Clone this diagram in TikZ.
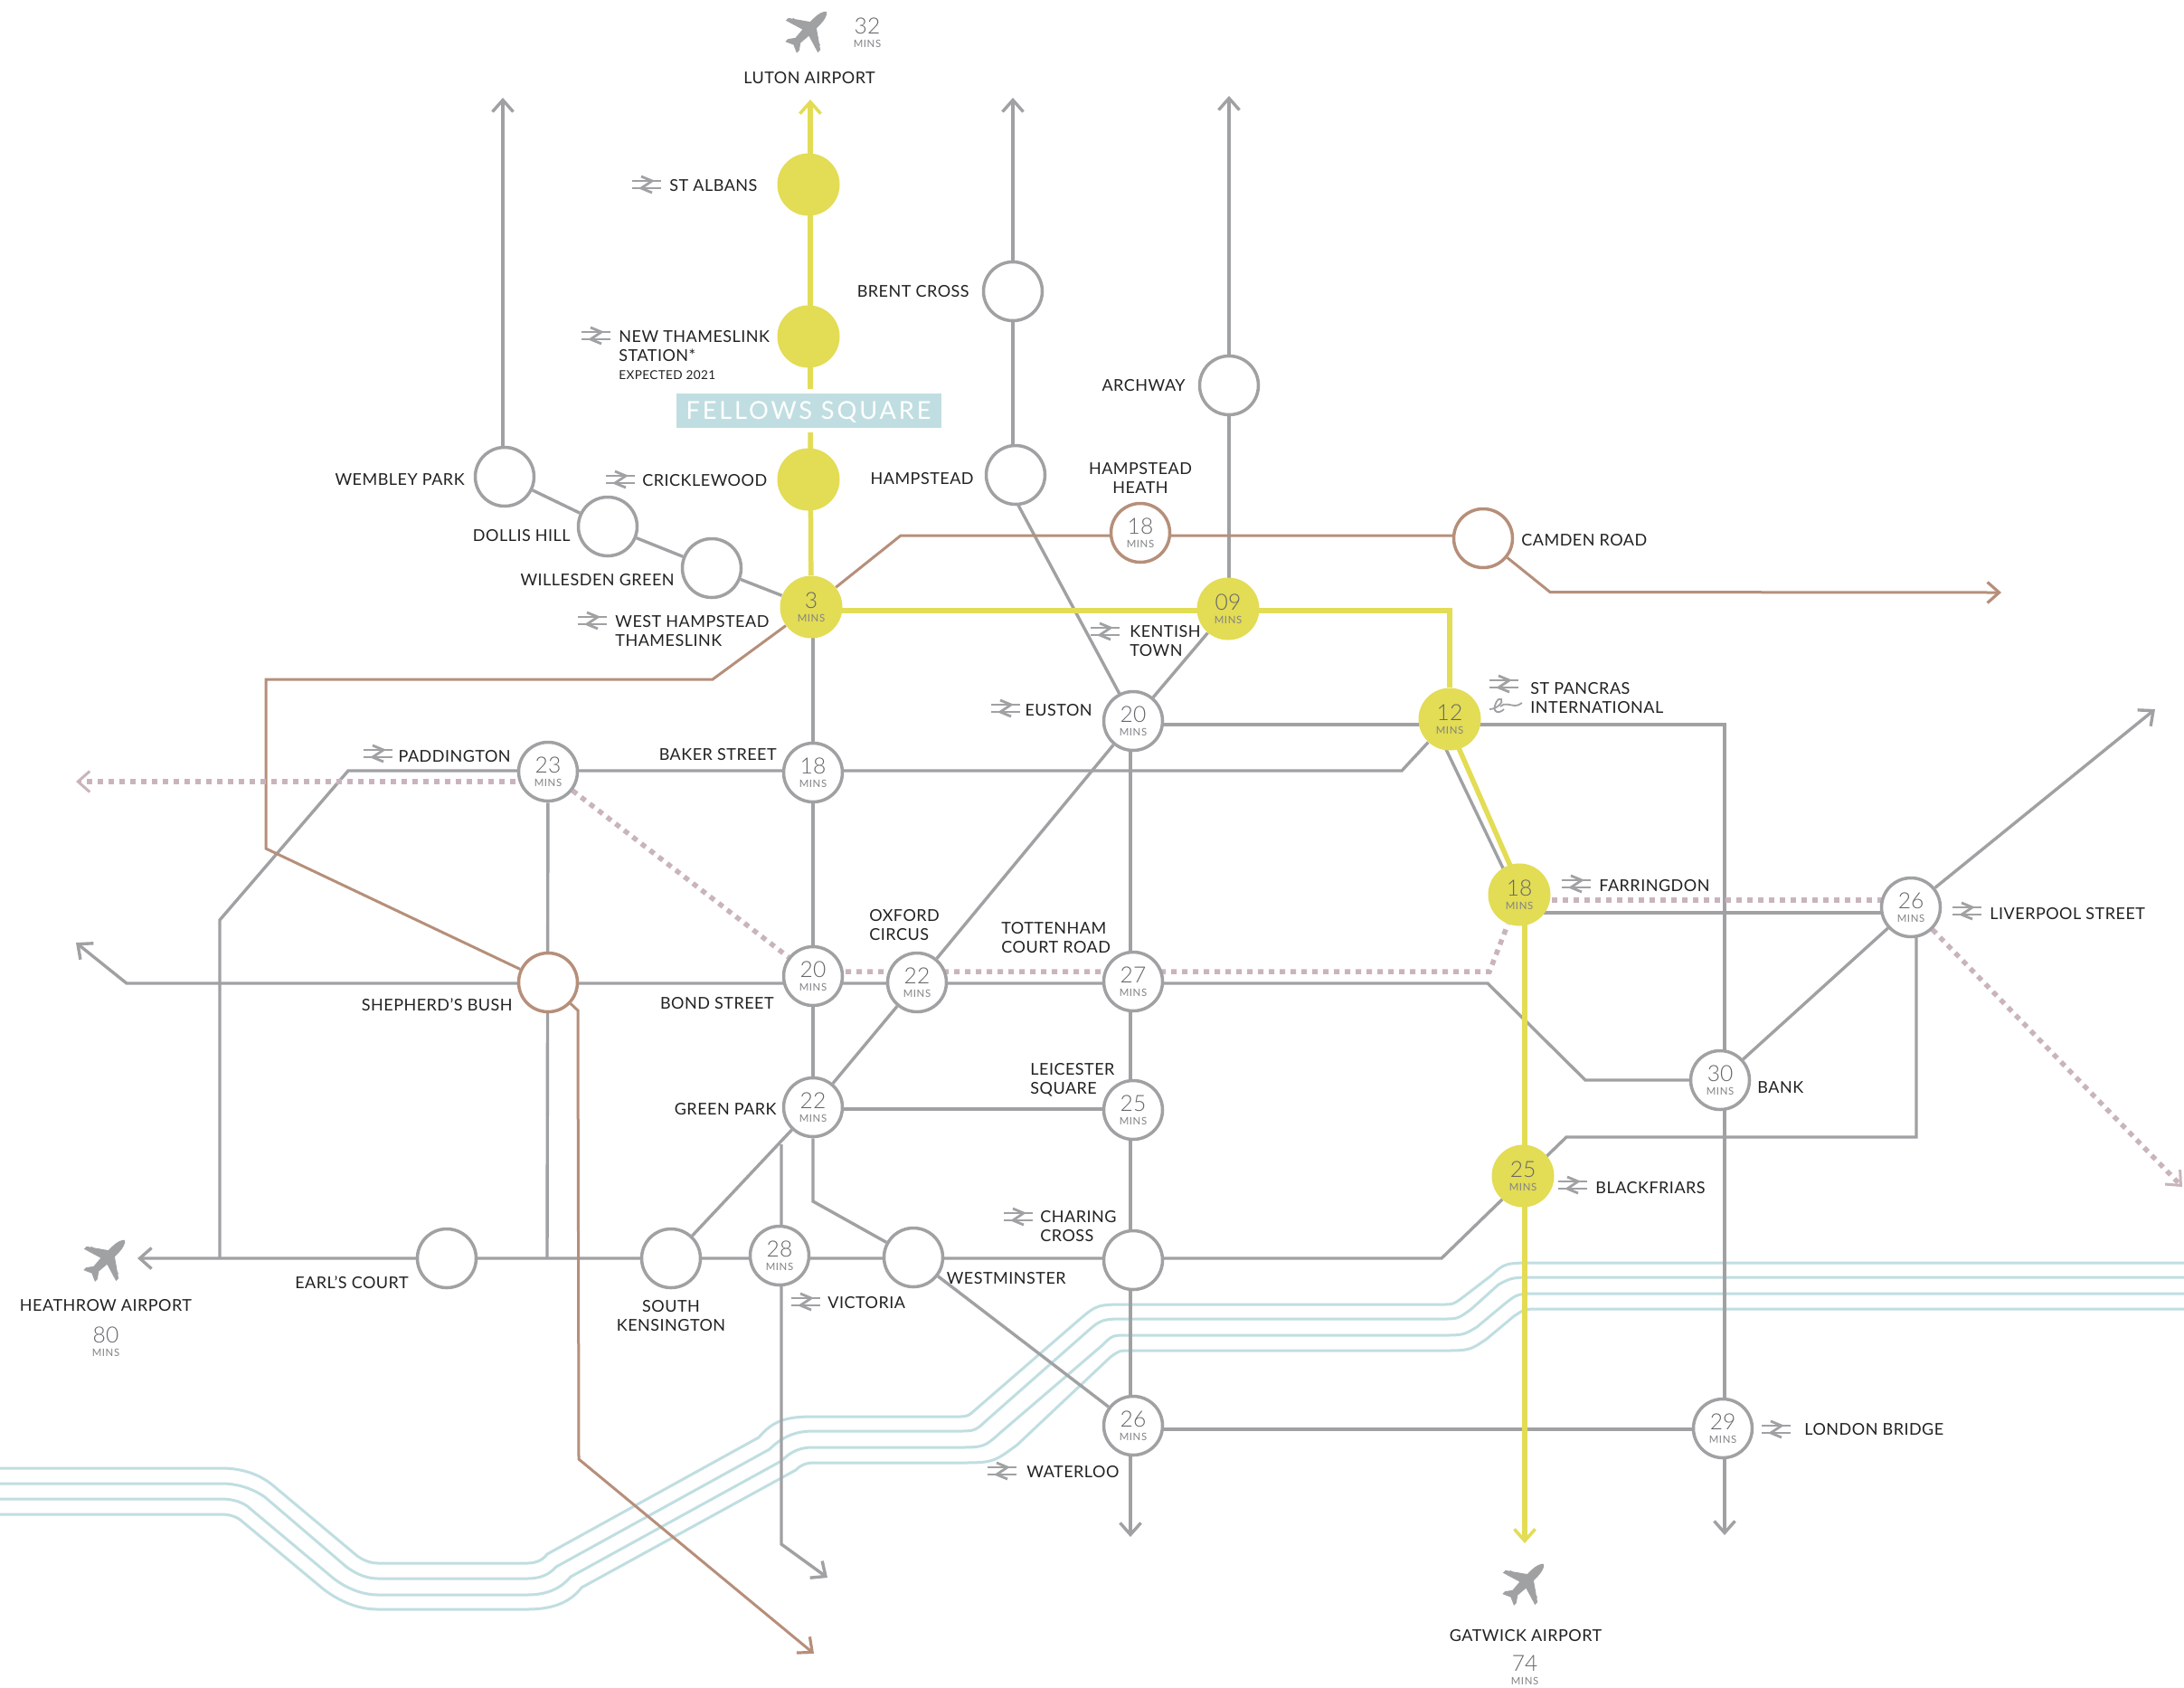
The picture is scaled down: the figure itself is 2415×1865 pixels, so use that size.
\documentclass[tikz,border=0pt]{standalone}
\usepackage{fontspec}
\usetikzlibrary{arrows.meta,calc,backgrounds}
\newfontfamily\lato{Lato}[LetterSpace=2.7]
\newfontfamily\latolight{Lato Light}
\newfontfamily\latoms{Lato}[LetterSpace=5]
\newfontfamily\latofs{Lato}[LetterSpace=10.5]
\definecolor{cyellow}{HTML}{E3DC55}
\definecolor{cgrey}{HTML}{A0A1A3}
\definecolor{cbrown}{HTML}{B68F7A}
\definecolor{cblue}{HTML}{C0DEE1}
\definecolor{cmauve}{HTML}{C9B4BD}
\definecolor{ctext}{HTML}{222222}
\definecolor{cnum}{HTML}{66676A}
\definecolor{cmins}{HTML}{838487}
\newcommand\labf{\lato\fontsize{9.0}{10.5}\selectfont}
\newcommand\smallf{\lato\fontsize{6.8}{8}\selectfont}
\newcommand\numf{\latolight\fontsize{12.3}{13}\selectfont}
\newcommand\minf{\latoms\fontsize{5.7}{7.5}\selectfont}
\newcommand\tm[1]{{\numf\textcolor{cnum}{#1}}\\\textcolor{cmins}{MINS}}
\tikzset{
  ws/.style={circle,draw=cgrey,fill=white,line width=1.75pt,minimum size=32.5pt,inner sep=0pt,align=center,font=\minf},
  bs/.style={ws,draw=cbrown},
  ys/.style={circle,fill=cyellow,minimum size=34.5pt,inner sep=0pt,align=center,font=\minf},
  lab/.style={font=\labf,text=ctext,inner sep=0pt,align=left,yshift=-0.4pt},
  tmlab/.style={inner sep=0pt,align=center,font=\minf},
  gline/.style={draw=cgrey,line width=1.7pt},
  bline/.style={draw=cbrown,line width=1.5pt},
  yline/.style={draw=cyellow,line width=2.75pt},
  dline/.style={draw=cmauve,line width=2.75pt,dash pattern=on 3pt off 3pt},
  tline/.style={draw=cblue,line width=1.5pt},
  garr/.style={-{Straight Barb[length=6.5pt,width=11.5pt,line width=1.7pt]}},
  railsym/.pic={
    \draw[cgrey,line width=1.4pt] (-16,-4) -- (16,-4) (-16,4) -- (16,4);
    \draw[cgrey,line width=1.4pt] (-6,-9) -- (6,-4) -- (-6,4) -- (6,9);
  },
  eurosym/.pic={
    \draw[cgrey,line width=.9pt] (-18,4) .. controls (-10,4) and (-2,-4) .. (-5,-7) .. controls (-8,-10) and (-14,0) .. (-12,5) .. controls (-10,9) and (-5,7) .. (-2,4);
    \draw[cgrey,line width=.9pt] (-6,1) .. controls (-2,-4) and (6,0) .. (10,0) .. controls (14,0) and (16,-2) .. (18,-3);
  },
  planesym/.pic={
    \fill[cgrey] (0,-30) .. controls (3,-28) and (5,-22) .. (5,-15) -- (5,-9) -- (25,5) -- (25,9) -- (5,3) -- (4,15) -- (9,22) -- (9,26) -- (0,22)
      -- (-9,26) -- (-9,22) -- (-4,15) -- (-5,3) -- (-25,9) -- (-25,5) -- (-5,-9) -- (-5,-15) .. controls (-5,-22) and (-3,-28) .. (0,-30) -- cycle;
    \fill[cgrey] (11,-3) rectangle (14,4) (18,1) rectangle (21,7) (-14,-3) rectangle (-11,4) (-21,1) rectangle (-18,7);
  }
}
\pgfdeclarelayer{bg}
\pgfsetlayers{bg,main}
\begin{document}
\begin{tikzpicture}[x=0.5pt,y=-0.5pt]
\useasboundingbox (0,0) rectangle (2415,1865);
% ---------- stations
\node[ys] (stalbans) at (894,204) {};
\node[ys] (newthames) at (894,372) {};
\node[ys] (crickle) at (894,530) {};
\node[ys] (westh) at (897,671) {\tm{3}};
\node[ys] (kentish) at (1358,673) {\tm{09}};
\node[ys] (stpancras) at (1603,795) {\tm{12}};
\node[ys] (farringdon) at (1680,989) {\tm{18}};
\node[ys] (blackfriars) at (1684,1300) {\tm{25}};
\node[ws] (brent) at (1120,322) {};
\node[ws] (hampstead) at (1123,525) {};
\node[bs] (heath) at (1261,589) {\tm{18}};
\node[ws] (archway) at (1359,426) {};
\node[bs] (camden) at (1640,595) {};
\node[ws] (euston) at (1253,797) {\tm{20}};
\node[ws] (baker) at (899,854) {\tm{18}};
\node[ws] (wembley) at (558,527) {};
\node[ws] (dollis) at (672,582) {};
\node[ws] (willesden) at (787,628) {};
\node[ws] (paddington) at (606,853) {\tm{23}};
\node[bs] (shepherd) at (606,1086) {};
\node[ws] (bond) at (899,1079) {\tm{20}};
\node[ws] (oxford) at (1014,1086) {\tm{22}};
\node[ws] (tcr) at (1253,1085) {\tm{27}};
\node[ws] (green) at (899,1224) {\tm{22}};
\node[ws] (leicester) at (1253,1227) {\tm{25}};
\node[ws] (charing) at (1253,1393) {};
\node[ws] (westminster) at (1010,1390) {};
\node[ws] (victoria) at (862,1388) {\tm{28}};
\node[ws] (southk) at (742,1391) {};
\node[ws] (earls) at (494,1391) {};
\node[ws] (waterloo) at (1253,1576) {\tm{26}};
\node[ws] (london) at (1905,1579) {\tm{29}};
\node[ws] (bank) at (1902,1194) {\tm{30}};
\node[ws] (liverpool) at (2113,1003) {\tm{26}};
% ---------- Fellows Square
\node[fill=cblue,minimum width=146.5pt,minimum height=19pt,inner sep=0pt,text=white,text depth=0pt,font=\latofs\fontsize{13.6}{15}\selectfont] (fellows) at (894,454) {FELLOWS SQUARE};
% ---------- free ends
\coordinate (ytip) at (896,110);
\coordinate (ygapt) at (896,430);
\coordinate (ygapb) at (896,478);
\coordinate (ycorner) at (1603,675);
\coordinate (ybot) at (1686,1706);
\coordinate (wtip) at (556,108);
\coordinate (btip) at (1120,108);
\coordinate (atip) at (1359,106);
\coordinate (etip) at (1250,1699);
\coordinate (ltip) at (1907,1697);
\coordinate (sheptip) at (84,1042);
\coordinate (earltip) at (152,1391);
\coordinate (vtip) at (915,1744);
\coordinate (vtop) at (864,1265);
\coordinate (lstip) at (2383,784);
\coordinate (camtip) at (2213,655);
\coordinate (shbtip) at (900,1828);
\coordinate (dltip) at (84,864);
\coordinate (drtip) at (2413,1312);
\begin{pgfonlayer}{bg}
\fill[white] (0,0) rectangle (2415,1865);
% ---------- river lines
\draw[tline] (0,1623)--(245,1623).. controls (268,1623) and (288,1630) ..(303,1643)--(395,1720).. controls (402,1725) and (410,1728) ..(418,1728)--(583,1728).. controls (592,1728) and (600,1725) ..(605,1718)--(839,1589).. controls (855,1570) and (870,1566) ..(899,1566)--(1058,1566).. controls (1070,1566) and (1070,1566) ..(1080,1557)--(1192,1460).. controls (1213,1442) and (1213,1442) ..(1248,1442)--(1594,1442).. controls (1607,1442) and (1607,1442) ..(1619,1433)--(1649,1410).. controls (1664,1396) and (1664,1396) ..(1702,1396)--(2415,1396);
\draw[tline] (0,1640)--(245,1640).. controls (264,1640) and (280,1646) ..(293,1655)--(383,1732).. controls (395,1741) and (407,1745) ..(418,1745)--(583,1745).. controls (597,1745) and (607,1741) ..(615,1732)--(851,1602).. controls (865,1588) and (880,1582) ..(899,1582)--(1058,1582).. controls (1078,1582) and (1078,1582) ..(1091,1570)--(1201,1473).. controls (1218,1458) and (1218,1458) ..(1248,1458)--(1594,1458).. controls (1612,1458) and (1612,1458) ..(1627,1447)--(1657,1420).. controls (1672,1412) and (1672,1412) ..(1702,1412)--(2415,1412);
\draw[tline] (0,1657)--(245,1657).. controls (258,1657) and (270,1661) ..(277,1668)--(369,1745).. controls (385,1757) and (402,1763) ..(418,1763)--(583,1763).. controls (605,1763) and (620,1756) ..(631,1743)--(864,1615).. controls (875,1604) and (885,1600) ..(899,1600)--(1058,1600).. controls (1088,1600) and (1088,1600) ..(1107,1583)--(1219,1487).. controls (1230,1476) and (1230,1476) ..(1248,1476)--(1594,1476).. controls (1618,1476) and (1618,1476) ..(1633,1467)--(1663,1442).. controls (1678,1430) and (1678,1430) ..(1702,1430)--(2415,1430);
\draw[tline] (0,1674)--(245,1674).. controls (254,1674) and (263,1677) ..(268,1682)--(358,1757).. controls (378,1772) and (398,1779) ..(418,1779)--(583,1779).. controls (610,1779) and (630,1772) ..(643,1755)--(880,1625).. controls (886,1619) and (892,1617) ..(899,1617)--(1058,1617).. controls (1098,1617) and (1098,1617) ..(1125,1597)--(1228,1500).. controls (1238,1493) and (1238,1493) ..(1248,1493)--(1594,1493).. controls (1625,1493) and (1625,1493) ..(1644,1480)--(1674,1455).. controls (1686,1447) and (1686,1447) ..(1702,1447)--(2415,1447);
% ---------- grey lines
\draw[gline,garr] ($(wembley)+(-2,0)$) -- (wtip);
\draw[gline] (wembley) -- (dollis) -- (willesden) -- (westh);
\draw[gline,garr] ($(hampstead)+(-3,0)$) -- (btip);
\draw[gline,garr] ($(kentish)+(1,0)$) -- (atip);
\draw[gline] ($(hampstead)+(-15,0)$) -- ($(euston)+(1,0)$);
\draw[gline] (kentish) -- (euston);
\draw[gline] ($(westh)+(2,0)$) -- (baker) -- (bond) -- (green);
\draw[gline] (euston) -- (oxford) -- (green);
\draw[gline,garr] ($(euston)+(0,4)$) -- (1907,801) -- (ltip);
\draw[gline,garr] ($(euston)+(-3,0)$) -- (etip);
\draw[gline] (243,1391) -- (243,1017) -- (385,852) -- (1550,852) -- (stpancras);
\draw[gline] (paddington) -- (605,1391);
\draw[gline,garr] (2119,1003) -- (2119,1257) -- (1732,1257) -- (1594,1391) -- (earltip);
\draw[gline,garr] (606,1087) -- (140,1087) -- (sheptip);
\draw[gline] (606,1087) -- (1645,1087) -- (1753,1194) -- (bank);
\draw[gline] ($(farringdon)+(0,20)$) -- (2113,1009);
\draw[gline] (bank) -- (liverpool);
\draw[gline,garr] (liverpool) -- (lstip);
\draw[gline] ($(stpancras)+(-20,0)$) -- ($(farringdon)+(-4,0)$);
\draw[gline] ($(waterloo)+(0,4)$) -- ($(london)+(0,1)$);
\draw[gline] ($(green)+(0,2)$) -- ($(leicester)+(0,-1)$);
\draw[gline] (green) -- (southk);
\draw[gline,garr] (vtop) -- (864,1707) -- (vtip);
\draw[gline] (green) -- (899,1328) -- (westminster);
\draw[gline] (westminster) -- (waterloo);
% ---------- brown lines
\draw[bline] (westh) -- (996,592) -- (1640,592);
\draw[bline,-{Straight Barb[length=6.5pt,width=11.5pt,line width=1.6pt]}] (camden) -- (1714,654.5) -- (camtip);
\draw[bline] (westh) -- (788,751) -- (294,751) -- (294,938) -- (shepherd);
\draw[bline,-{Straight Barb[length=6.5pt,width=11.5pt,line width=1.6pt]}] (shepherd) -- (639,1117) -- (640,1613) -- (shbtip);
% ---------- mauve dotted
\draw[dline,-{Straight Barb[length=6.5pt,width=11.5pt,line width=1.5pt]}] (paddington.center |- 0,864) -- (dltip);
\draw[dline] (paddington) -- (bond);
\draw[dline] (bond.center |- 0,1074) -- (1647,1074) -- (farringdon);
\draw[dline] (farringdon.center |- 0,995) -- (liverpool.center |- 0,995);
\draw[dline,-{Straight Barb[length=6.5pt,width=11.5pt,line width=1.5pt]}] (liverpool) -- (drtip);
% ---------- yellow line
\draw[yline,-{Straight Barb[length=6.5pt,width=11.5pt,line width=1.75pt]}] (ygapt) -- (ytip);
\draw[yline] (ygapb) -- (westh);
\draw[yline] (897,675) -- (ycorner) -- (stpancras);
\draw[yline] ($(stpancras)+(-4,0)$) -- ($(farringdon)+(4,0)$);
\draw[yline,-{Straight Barb[length=6.5pt,width=11.5pt,line width=1.75pt]}] (1686,989) -- (ybot);
\end{pgfonlayer}
% ---------- labels
\node[lab,anchor=west] (l1) at (740,204) {ST ALBANS};
\node[lab] (l2) at (895,85) {LUTON AIRPORT};
\node[tmlab] (t32) at (959,36) {\tm{32}};
\node[lab,anchor=east] (l3) at (1072,321) {BRENT CROSS};
\node[lab,anchor=west] (l4) at (684,382) {NEW THAMESLINK\\STATION*};
\node[lab,anchor=west,font=\smallf] (l5) at (684,414) {EXPECTED 2021};
\node[lab,anchor=east] (l6) at (514,529) {WEMBLEY PARK};
\node[lab,anchor=east] (l7) at (631,591) {DOLLIS HILL};
\node[lab,anchor=east] (l8) at (746,640) {WILLESDEN GREEN};
\node[lab,anchor=west] (l9) at (710,530) {CRICKLEWOOD};
\node[lab,anchor=west] (l10) at (680,697) {WEST HAMPSTEAD\\THAMESLINK};
\node[lab,anchor=east] (l11) at (1077,528) {HAMPSTEAD};
\node[lab,align=center] (l12) at (1261,527.5) {HAMPSTEAD\\HEATH};
\node[lab,anchor=east] (l13) at (1311,425) {ARCHWAY};
\node[lab,anchor=west] (l14) at (1682,596) {CAMDEN ROAD};
\node[lab,anchor=west] (l15) at (1249,707.5) {KENTISH\\TOWN};
\node[lab,anchor=east] (l16) at (1208,784) {EUSTON};
\node[lab,anchor=west] (l17) at (1692,770.5) {ST PANCRAS\\INTERNATIONAL};
\node[lab,anchor=west] (l18) at (1768,978) {FARRINGDON};
\node[lab,anchor=west] (l19) at (2200,1009) {LIVERPOOL STREET};
\node[lab,anchor=west] (l20) at (1943,1201) {BANK};
\node[lab,anchor=west] (l21) at (1764,1312) {BLACKFRIARS};
\node[lab,anchor=east] (l22) at (859,833) {BAKER STREET};
\node[lab,anchor=east] (l23) at (565,835) {PADDINGTON};
\node[lab,anchor=east] (l24) at (567,1110) {SHEPHERD’S BUSH};
\node[lab,anchor=east] (l25) at (856,1108) {BOND STREET};
\node[lab,anchor=west] (l26) at (961,1021.5) {OXFORD\\CIRCUS};
\node[lab,anchor=west] (l27) at (1107,1036) {TOTTENHAM\\COURT ROAD};
\node[lab,anchor=west] (l28) at (1139,1192.5) {LEICESTER\\SQUARE};
\node[lab,anchor=east] (l29) at (859,1225) {GREEN PARK};
\node[lab,anchor=west] (l30) at (1150,1354.5) {CHARING\\CROSS};
\node[lab,anchor=east] (l31) at (1179,1412) {WESTMINSTER};
\node[lab,anchor=west] (l32) at (915,1439) {VICTORIA};
\node[lab,align=center] (l33) at (742,1453.5) {SOUTH\\KENSINGTON};
\node[lab,anchor=east] (l34) at (452,1417) {EARL’S COURT};
\node[lab] (l35) at (117,1442) {HEATHROW AIRPORT};
\node[tmlab] (t80) at (117,1483) {\tm{80}};
\node[lab,anchor=west] (l36) at (1135,1626) {WATERLOO};
\node[lab,anchor=west] (l37) at (1995,1579) {LONDON BRIDGE};
\node[lab] (l38) at (1687,1807) {GATWICK AIRPORT};
\node[tmlab] (t74) at (1686,1846) {\tm{74}};
% ---------- symbols
\pic at (715,204) {railsym};
\pic at (659,371) {railsym};
\pic at (686,530) {railsym};
\pic at (655,686) {railsym};
\pic at (1222,698) {railsym};
\pic at (1112,783) {railsym};
\pic at (1663,756) {railsym};
\pic at (1665,780) {eurosym};
\pic at (1743,977) {railsym};
\pic at (2175,1007) {railsym};
\pic at (1739,1310) {railsym};
\pic at (418,833) {railsym};
\pic at (1126,1345) {railsym};
\pic at (891,1439) {railsym};
\pic at (1108,1626) {railsym};
\pic at (1964,1580) {railsym};
\pic[rotate=-45] at (893,34) {planesym};
\pic[rotate=-45] at (117,1392) {planesym};
\pic[rotate=-45] at (1686,1750) {planesym};
\end{tikzpicture}
\end{document}
